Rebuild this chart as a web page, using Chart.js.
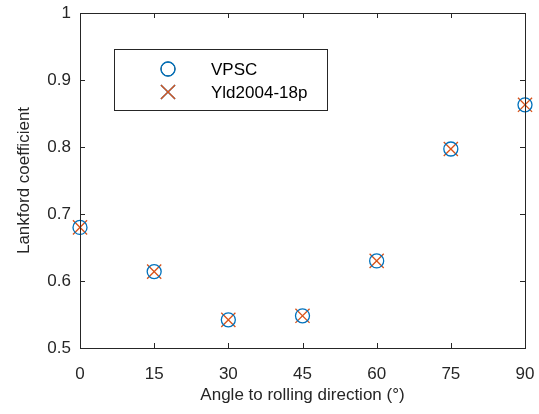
<!DOCTYPE html>
<html>
<head>
<meta charset="utf-8">
<script src="https://cdn.jsdelivr.net/npm/chart.js@4.4.0/dist/chart.umd.min.js"></script>
<style>
  html, body { margin: 0; padding: 0; background: #fff; }
  #wrap { width: 539px; height: 414px; }
</style>
</head>
<body>
<div id="wrap"><canvas id="myChart" width="539" height="414"></canvas></div>
<script>
const angles = [0, 15, 30, 45, 60, 75, 90];
const vpsc = [0.680, 0.614, 0.542, 0.548, 0.630, 0.797, 0.863];
const yld = [0.680, 0.614, 0.542, 0.548, 0.630, 0.797, 0.863];
const xTicks = [0, 15, 30, 45, 60, 75, 90];
const yTicks = [0.5, 0.6, 0.7, 0.8, 0.9, 1];

const FONT = "'Liberation Sans', Arial, Helvetica, sans-serif";
const BLUE = '#0072BD';
const ORANGE = '#D95319';

function toPoints(vals) {
    return angles.map(function (a, i) { return {x: a, y: vals[i]}; });
}

// box, inward ticks on all four sides, and the legend inside the axes
const matlabBox = {
    id: 'matlabBox',
    afterDraw: function (chart) {
        const c = chart.ctx;
        const a = chart.chartArea;
        const xs = chart.scales.x;
        const ys = chart.scales.y;
        c.save();
        c.strokeStyle = '#262626';
        c.lineWidth = 1;
        c.strokeRect(Math.round(a.left) + 0.5, Math.round(a.top) + 0.5,
            Math.round(a.right - a.left), Math.round(a.bottom - a.top));
        const tl = 5;
        c.beginPath();
        xTicks.forEach(function (t) {
            const px = Math.round(xs.getPixelForValue(t)) + 0.5;
            c.moveTo(px, a.bottom); c.lineTo(px, a.bottom - tl);
            c.moveTo(px, a.top); c.lineTo(px, a.top + tl);
        });
        yTicks.forEach(function (t) {
            const py = Math.round(ys.getPixelForValue(t)) + 0.5;
            c.moveTo(a.left, py); c.lineTo(a.left + tl, py);
            c.moveTo(a.right, py); c.lineTo(a.right - tl, py);
        });
        c.stroke();

        // legend
        const lx = 114, ly = 49, lw = 213, lh = 61;
        c.fillStyle = '#fff';
        c.fillRect(lx, ly, lw, lh);
        c.strokeStyle = '#262626';
        c.strokeRect(lx + 0.5, ly + 0.5, lw, lh);
        c.font = '17px ' + FONT;
        c.textBaseline = 'middle';
        chart.data.datasets.forEach(function (ds, i) {
            const cy = 69 + i * 23;
            Chart.helpers.drawPoint(c, {
                pointStyle: ds.pointStyle,
                radius: ds.pointRadius,
                borderWidth: ds.borderWidth
            }, 168, cy);
            c.strokeStyle = ds.borderColor;
            c.lineWidth = ds.borderWidth;
            c.stroke();
            c.fillStyle = '#000';
            c.fillText(ds.label, 211, cy + 1);
        });
        c.restore();
    }
};

const ctx = document.getElementById('myChart');

const myChart = new Chart(ctx, {
    type: 'scatter',
    data: {
        datasets: [{
            label: 'VPSC',
            data: toPoints(vpsc),
            pointStyle: 'circle',
            pointRadius: 7,
            pointHoverRadius: 7,
            borderColor: BLUE,
            backgroundColor: 'rgba(0,0,0,0)',
            borderWidth: 1.3
        }, {
            label: 'Yld2004-18p',
            data: toPoints(yld),
            pointStyle: 'crossRot',
            pointRadius: 10,
            pointHoverRadius: 10,
            borderColor: ORANGE,
            backgroundColor: ORANGE,
            borderWidth: 1.3
        }]
    },
    options: {
        responsive: false,
        animation: false,
        events: [],
        clip: false,
        layout: {
            padding: {left: 0, top: 13, right: 14, bottom: 8}
        },
        plugins: {
            legend: {display: false},
            tooltip: {enabled: false}
        },
        scales: {
            x: {
                type: 'linear',
                min: 0,
                max: 90,
                afterBuildTicks: function (s) {
                    s.ticks = xTicks.map(function (v) { return {value: v}; });
                },
                afterFit: function (s) {
                    s.height = 58;
                    s.paddingLeft = 0;
                    s.paddingRight = 0;
                },
                grid: {display: false, drawTicks: false},
                border: {display: false},
                ticks: {
                    color: '#262626',
                    padding: 16,
                    font: {family: FONT, size: 17}
                },
                title: {
                    display: true,
                    text: 'Angle to rolling direction (°)',
                    color: '#262626',
                    font: {family: FONT, size: 17},
                    padding: {top: 6, bottom: 0}
                }
            },
            y: {
                type: 'linear',
                min: 0.5,
                max: 1,
                afterBuildTicks: function (s) {
                    s.ticks = yTicks.map(function (v) { return {value: v}; });
                },
                afterFit: function (s) {
                    s.width = 80;
                    s.paddingTop = 0;
                    s.paddingBottom = 0;
                },
                grid: {display: false, drawTicks: false},
                border: {display: false},
                ticks: {
                    color: '#262626',
                    padding: 9,
                    font: {family: FONT, size: 17},
                    callback: function (v) { return String(Math.round(v * 10) / 10); }
                },
                title: {
                    display: true,
                    text: 'Lankford coefficient',
                    color: '#262626',
                    font: {family: FONT, size: 17},
                    padding: {top: 14, bottom: 4}
                }
            }
        }
    },
    plugins: [matlabBox]
});
</script>
</body>
</html>
